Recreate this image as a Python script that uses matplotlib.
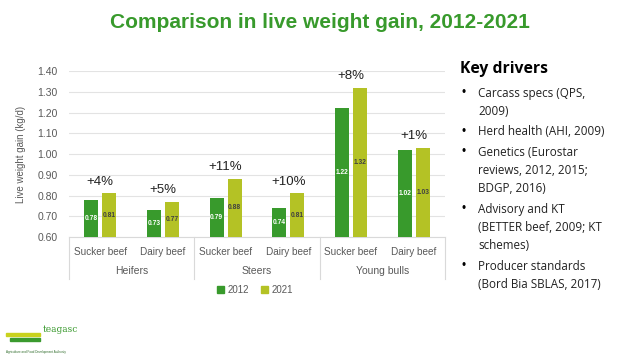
import numpy as np
import matplotlib.pyplot as plt
from matplotlib.patches import Patch

plt.rcParams['font.family'] = ['Liberation Sans', 'DejaVu Sans']

groups = ['Heifers', 'Steers', 'Young bulls']
types = ['Sucker beef', 'Dairy beef', 'Sucker beef', 'Dairy beef', 'Sucker beef', 'Dairy beef']
v2012 = [0.78, 0.73, 0.79, 0.74, 1.22, 1.02]
v2021 = [0.81, 0.77, 0.88, 0.81, 1.32, 1.03]
changes = ['+4%', '+5%', '+11%', '+10%', '+8%', '+1%']
drivers = [
    ['Carcass specs (QPS,', '2009)'],
    ['Herd health (AHI, 2009)'],
    ['Genetics (Eurostar', 'reviews, 2012, 2015;', 'BDGP, 2016)'],
    ['Advisory and KT', '(BETTER beef, 2009; KT', 'schemes)'],
    ['Producer standards', '(Bord Bia SBLAS, 2017)'],
]

c12 = '#389A2C'
c21 = '#B4C225'
grey = '#595959'

fig = plt.figure(figsize=(6.4, 3.6), dpi=100)
ax = fig.add_axes([69 / 640, 1 - 237 / 360, 376 / 640, 166 / 360])

x = np.arange(len(types))
w = 0.223
off = 0.1435
ax.bar(x - off, np.array(v2012) - 0.6, w, bottom=0.6, color=c12, zorder=3)
ax.bar(x + off, np.array(v2021) - 0.6, w, bottom=0.6, color=c21, zorder=3)

for i in range(len(types)):
    ax.text(x[i] - off, (v2012[i] + 0.6) / 2, f'{v2012[i]:.2f}', ha='center', va='center',
            fontsize=4.8, color='white', fontweight='bold', zorder=4)
    ax.text(x[i] + off, (v2021[i] + 0.6) / 2, f'{v2021[i]:.2f}', ha='center', va='center',
            fontsize=4.8, color='#404040', fontweight='bold', zorder=4)
    top = max(v2012[i], v2021[i])
    ax.annotate(changes[i], (x[i], top), xytext=(0, 4), textcoords='offset points',
                ha='center', va='bottom', fontsize=9.5, color='#222222')

ax.set_xlim(-0.5, 5.5)
ax.set_ylim(0.6, 1.4)
ax.set_yticks(np.arange(0.6, 1.41, 0.1))
ax.set_yticklabels([f'{t:.2f}' for t in np.arange(0.6, 1.41, 0.1)], fontsize=7.5, color=grey)
ax.yaxis.grid(True, color='#E3E3E3', lw=0.8, zorder=0)
ax.set_xticks(x)
ax.set_xticklabels(types, fontsize=7.2, color=grey)
ax.tick_params(length=0, pad=7)
ax.tick_params(axis='y', pad=8)
for s in ['top', 'right', 'left']:
    ax.spines[s].set_visible(False)
ax.spines['bottom'].set_color('#D9D9D9')
ax.set_ylabel('Live weight gain (kg/d)', fontsize=7, color=grey, labelpad=8)

# group separators and labels
for k in range(4):
    ax.plot([k * 2 - 0.5] * 2, [0, -0.25], transform=ax.get_xaxis_transform(),
            color='#D9D9D9', lw=0.8, clip_on=False)
for k, g in enumerate(groups):
    ax.text(k * 2 + 0.5, -0.205, g, transform=ax.get_xaxis_transform(),
            ha='center', va='center', fontsize=7.5, color=grey)

fig.legend(handles=[Patch(color=c12, label='2012'), Patch(color=c21, label='2021')],
           loc='center', bbox_to_anchor=(255 / 640, 1 - 290 / 360), ncol=2, frameon=False,
           fontsize=7, handlelength=0.7, handleheight=0.7, columnspacing=1.2,
           handletextpad=0.4, labelcolor=grey)

fig.text(0.5, 1 - 22 / 360, 'Comparison in live weight gain, 2012-2021', ha='center', va='center',
         fontsize=15, fontweight='bold', color=c12)

fig.text(460 / 640, 1 - 69 / 360, 'Key drivers', ha='left', va='center',
         fontsize=11.3, fontweight='bold', color='black', family='Open Sans')
y = 93
for d in drivers:
    fig.text(461 / 640, 1 - y / 360, '•', ha='left', va='center', fontsize=8.5, color='black')
    for line in d:
        fig.text(478 / 640, 1 - y / 360, line, ha='left', va='center', fontsize=8.4,
                 color='#222222', family='Open Sans')
        y += 18.2
    y += 2.3

# logo approximation
fig.text(43 / 640, 1 - 329 / 360, 'teagasc', ha='left', va='center', fontsize=6.5,
         color='#3A9A2E', family='DejaVu Serif')
fig.text(6 / 640, 1 - 352 / 360, 'Agriculture and Food Development Authority', ha='left',
         va='center', fontsize=2.2, color='#2E6B2A')
fig.patches.append(plt.Rectangle((6 / 640, 1 - 336 / 360), 34 / 640, 3 / 360,
                                 transform=fig.transFigure, color='#C9D21E'))
fig.patches.append(plt.Rectangle((10 / 640, 1 - 341 / 360), 30 / 640, 3 / 360,
                                 transform=fig.transFigure, color='#3A9A2E'))

fig.savefig('out.png', dpi=100)
